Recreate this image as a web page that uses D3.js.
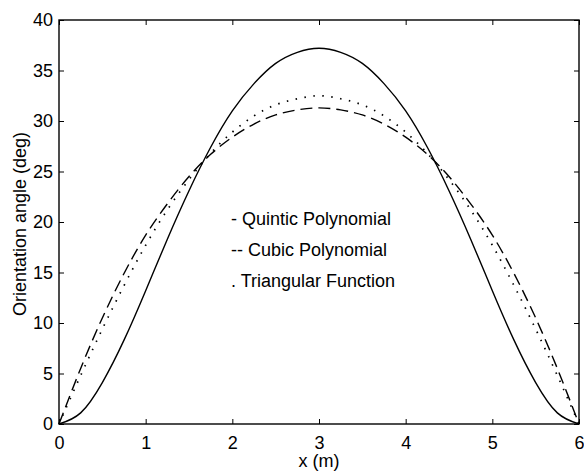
<!DOCTYPE html>
<html>
<head>
<meta charset="utf-8">
<script src="https://cdn.jsdelivr.net/npm/d3@7"></script>
<style>
  body { margin: 0; background: #fff; }
  svg text { font-family: "Liberation Sans", Arial, sans-serif; fill: #000; }
</style>
</head>
<body>
<svg width="584" height="471"></svg>
<script>
// x positions along the path (m)
const xs = [0, 0.25, 0.5, 0.75, 1, 1.25, 1.5, 1.75, 2, 2.25, 2.5, 2.75, 3,
  3.25, 3.5, 3.75, 4, 4.25, 4.5, 4.75, 5, 5.25, 5.5, 5.75, 6]

// orientation angle (deg)
const quintic = [0, 1.1, 4.1, 8.3, 13.2, 18.3, 23.1, 27.4, 31.0, 33.7, 35.7, 36.8, 37.2,
  36.8, 35.7, 33.7, 31.0, 27.4, 23.1, 18.3, 13.2, 8.3, 4.1, 1.1, 0]
const cubic = [0, 5.5, 10.5, 14.9, 18.7, 21.8, 24.5, 26.7, 28.4, 29.7, 30.6, 31.1, 31.3,
  31.1, 30.6, 29.7, 28.4, 26.7, 24.5, 21.8, 18.7, 14.9, 10.5, 5.5, 0]
const triangular = [0, 4.8, 9.4, 13.7, 17.7, 21.2, 24.2, 26.8, 28.9, 30.5, 31.6, 32.2, 32.5,
  32.2, 31.6, 30.5, 28.9, 26.8, 24.2, 21.2, 17.7, 13.7, 9.4, 4.8, 0]

const xTicks = [0, 1, 2, 3, 4, 5, 6]
const yTicks = [0, 5, 10, 15, 20, 25, 30, 35, 40]
const legendItems = ['- Quintic Polynomial', '-- Cubic Polynomial', '. Triangular Function']

const svg = d3.select('svg')
const mLeft = 59, mRight = 579, mTop = 20, mBottom = 424

const x = d3.scaleLinear().domain([0, 6]).range([mLeft, mRight])
const y = d3.scaleLinear().domain([0, 40]).range([mBottom, mTop])

// frame
svg.append('rect')
    .attr('x', mLeft).attr('y', mTop)
    .attr('width', mRight - mLeft).attr('height', mBottom - mTop)
    .attr('fill', 'none').attr('stroke', '#000').attr('stroke-width', 1.4)

// axes, ticks pointing inward
svg.append('g')
    .attr('transform', 'translate(0,' + mBottom + ')')
    .call(d3.axisBottom(x).tickValues(xTicks).tickSize(-5).tickPadding(12).tickFormat(d3.format('d')))
svg.append('g')
    .attr('transform', 'translate(0,' + mTop + ')')
    .call(d3.axisTop(x).tickValues(xTicks).tickSize(-5).tickFormat(''))
svg.append('g')
    .attr('transform', 'translate(' + mLeft + ',0)')
    .call(d3.axisLeft(y).tickValues(yTicks).tickSize(-5).tickPadding(6).tickFormat(d3.format('d')))
svg.append('g')
    .attr('transform', 'translate(' + mRight + ',0)')
    .call(d3.axisRight(y).tickValues(yTicks).tickSize(-5).tickFormat(''))

svg.selectAll('.domain').remove()
svg.selectAll('.tick line').attr('stroke', '#000').attr('stroke-width', 1)
svg.selectAll('.tick text')
    .style('font-size', '18px')
    .style('font-family', '"Liberation Sans", Arial, sans-serif')
    .attr('fill', '#000')

// axis labels
svg.append('text')
    .attr('x', x(3)).attr('y', 467)
    .attr('text-anchor', 'middle')
    .style('font-size', '18px')
    .text('x (m)')
svg.append('text')
    .attr('transform', 'translate(26,' + (y(20) + 2) + ') rotate(-90)')
    .attr('text-anchor', 'middle')
    .style('font-size', '18px')
    .text('Orientation angle  (deg)')

// curves
const line = d3.line()
    .x((d, i) => x(xs[i]))
    .y(d => y(d))
    .curve(d3.curveNatural)

svg.append('path')
    .datum(quintic)
    .attr('d', line)
    .attr('fill', 'none').attr('stroke', '#000').attr('stroke-width', 1.4)

svg.append('path')
    .datum(cubic)
    .attr('d', line)
    .attr('fill', 'none').attr('stroke', '#000').attr('stroke-width', 1.4)
    .attr('stroke-dasharray', '12,6')

svg.append('path')
    .datum(triangular)
    .attr('d', line)
    .attr('fill', 'none').attr('stroke', '#000').attr('stroke-width', 1.7)
    .attr('stroke-dasharray', '1.5,7.5')

// legend text
svg.selectAll('.legend')
    .data(legendItems)
    .enter().append('text')
    .attr('class', 'legend')
    .attr('x', 231)
    .attr('y', (d, i) => [225, 256, 287][i])
    .style('font-size', '18px')
    .text(d => d)
</script>
</body>
</html>
